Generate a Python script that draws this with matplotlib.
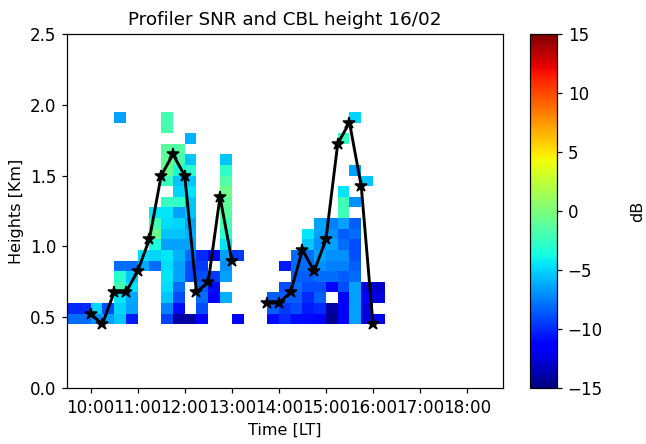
import numpy as np
import matplotlib

matplotlib.use("Agg")
import matplotlib.pyplot as plt

n = np.nan

# time bins: 15 min, first bin starts 09:30 (hours as floats)
bin_start = 9.5
bin_width = 0.25
n_bins = 37  # up to 18:45

# range gates: 75 m, first gate 0.45 km
gate_start = 0.45
gate_width = 0.075

# SNR [dB], one row per gate (top row = highest gate), one column per 15-min bin from 09:30
snr_rows = [
    # 09:30 .. 16:00
    [n, n, n, n, -6.5, n, n, n, -2.0, n, n, n, n, n, n, n, n, n, n, n, n, n, n, n, -5.0, n, n],
    [n, n, n, n, n, n, n, n, -1.8, n, n, n, n, n, n, n, n, n, n, n, n, n, n, n, n, n, n],
    [n, n, n, n, n, n, n, n, n, n, -6.0, n, n, n, n, n, n, n, n, n, n, n, n, -2.5, n, n, n],
    [n, n, n, n, n, n, n, n, -1.2, -1.5, n, n, n, n, n, n, n, n, n, n, n, n, n, n, n, n, n],
    [n, n, n, n, n, n, n, n, -1.0, -1.8, -5.5, n, n, -5.5, n, n, n, n, n, n, n, n, n, n, n, n, n],
    [n, n, n, n, n, n, n, n, -0.8, -3.5, -3.0, n, n, -2.8, n, n, n, n, n, n, n, n, n, n, -6.5, n, n],
    [n, n, n, n, n, n, n, n, -2.5, -5.5, -5.5, n, n, -1.6, n, n, n, n, n, n, n, n, n, n, n, -5.5, n],
    [n, n, n, n, n, n, n, n, n, -5.0, -4.5, n, n, -0.5, n, n, n, n, n, n, n, n, n, -4.5, n, n, n],
    [n, n, n, n, n, n, n, n, -2.5, -2.8, -5.5, n, n, -1.0, n, n, n, n, n, n, n, n, n, -2.2, -7.0, n, n],
    [n, n, n, n, n, n, n, -4.5, -4.5, -6.5, -5.5, n, n, -1.2, n, n, n, n, n, n, n, n, n, -2.2, n, n, n],
    [n, n, n, n, n, n, n, -2.0, -4.8, -5.0, -6.5, n, n, -2.0, n, n, n, n, n, n, n, -6.5, -7.5, -6.5, -8.5, n, n],
    [n, n, n, n, n, n, n, -0.8, -5.5, -5.5, -6.0, n, n, -3.0, n, n, n, n, n, n, -4.5, -6.5, -7.0, -8.5, -8.0, n, n],
    [n, n, n, n, n, n, n, -3.5, -6.5, -6.5, -6.5, n, n, -4.5, n, n, n, n, n, n, -5.5, -7.0, -6.5, -8.0, -9.0, n, n],
    [n, n, n, n, n, n, -4.8, -5.0, -4.5, -6.0, -8.0, -10.0, -11.5, -6.5, -9.5, n, n, n, n, -8.0, -8.0, -6.5, -7.0, -7.0, -9.0, n, n],
    [n, n, n, n, -8.0, -8.0, -6.3, -8.0, -4.8, -6.5, -9.0, -9.5, n, -7.0, n, n, n, n, -10.5, -8.0, -8.0, -7.0, -7.5, -7.5, -8.5, n, n],
    [n, n, n, n, -3.0, -5.5, n, n, -4.5, -6.5, -9.0, -9.0, -9.5, -6.5, n, n, n, n, n, -8.5, -8.5, -8.0, -8.0, -8.5, -8.0, n, n],
    [n, n, n, n, -2.0, -4.6, n, n, -4.7, -8.0, n, -8.5, -11.0, n, n, n, n, n, -9.0, -8.0, -9.0, -9.0, -11.5, -9.0, -6.5, -12.5, -13.0],
    [n, n, n, n, -4.5, -6.3, n, n, -5.5, -9.0, n, -8.0, -11.5, -6.0, n, n, n, -8.5, -8.5, -8.5, -10.0, -8.5, n, -11.5, -6.5, -11.5, -12.5],
    [-10.0, -10.0, -5.0, -9.0, -5.0, -6.5, n, n, -7.5, -11.0, n, -9.0, n, n, n, n, n, -8.5, -9.5, -9.0, -10.5, -10.0, -14.0, -11.5, -6.5, -12.5, n],
    [-8.0, -8.0, -7.0, -6.5, -5.3, -10.5, n, n, -9.3, -14.0, -14.0, -11.5, n, n, -11.5, n, n, -11.0, -10.0, -11.0, -11.0, -11.5, -14.5, -11.5, -6.5, -12.5, -12.0],
]

# CBL height [km] every 15 min from 10:00
cbl_start = 10.0
cbl_height = [0.525, 0.45, 0.675, 0.675, 0.825, 1.05, 1.5, 1.65, 1.5, 0.675, 0.75, 1.35, 0.9,
              n, n, 0.6, 0.6, 0.675, 0.975, 0.825, 1.05, 1.725, 1.875, 1.425, 0.45]

hour_ticks = [10, 11, 12, 13, 14, 15, 16, 17, 18]
hour_labels = ["10:00", "11:00", "12:00", "13:00", "14:00", "15:00", "16:00", "17:00", "18:00"]

snr = np.array(snr_rows[::-1], dtype=float)
snr = np.hstack([snr, np.full((snr.shape[0], n_bins - snr.shape[1]), np.nan)])
t_edges = bin_start + bin_width * np.arange(n_bins + 1)
h_edges = gate_start + gate_width * np.arange(snr.shape[0] + 1)
cbl_t = cbl_start + bin_width * np.arange(len(cbl_height))

fig = plt.figure(figsize=(646 / 110, 444 / 110), dpi=110)
ax = fig.add_axes([67 / 646, 56 / 444, 435.5 / 646, 354 / 444])
cax = fig.add_axes([530 / 646, 56 / 444, 27 / 646, 354 / 444])

mesh = ax.pcolormesh(t_edges, h_edges, np.ma.masked_invalid(snr), cmap="jet", vmin=-15, vmax=15)
ax.plot(cbl_t, cbl_height, "k-*", linewidth=1.9, markersize=8)

ax.set_xlim(t_edges[0], t_edges[-1])
ax.set_ylim(0, 2.5)
ax.set_xticks(hour_ticks)
ax.set_xticklabels(hour_labels)
ax.set_yticks([0.0, 0.5, 1.0, 1.5, 2.0, 2.5])
ax.tick_params(labelsize=11)
ax.set_xlabel("Time [LT]", fontsize=10.5)
ax.set_ylabel("Heights [Km]", fontsize=10.5)
ax.set_title("Profiler SNR and CBL height 16/02")

cb = fig.colorbar(mesh, cax=cax)
cb.set_ticks([-15, -10, -5, 0, 5, 10, 15])
cb.ax.tick_params(labelsize=11)
cb.set_label("dB", fontsize=10.5, labelpad=18)

fig.savefig("out.png", dpi=110)
